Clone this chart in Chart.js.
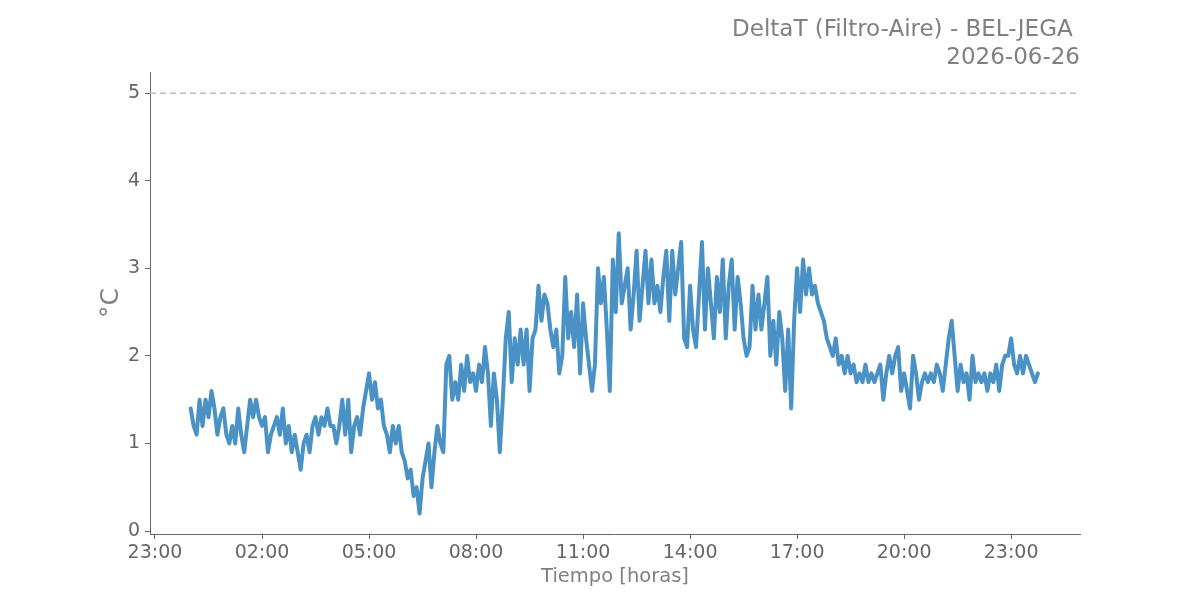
<!DOCTYPE html>
<html>
<head>
<meta charset="utf-8">
<script src="https://cdn.jsdelivr.net/npm/chart.js@4.4.1/dist/chart.umd.min.js"></script>
<style>
  html, body { margin: 0; padding: 0; background: #fff; }
  #wrap { width: 1200px; height: 600px; }
</style>
</head>
<body>
<div id="wrap"><canvas id="chart" width="1200" height="600"></canvas></div>
<script>
// DeltaT readings, one value every 5 minutes, grouped by hour of the day
const h00 = [1.4, 1.2, 1.1, 1.5, 1.2, 1.5, 1.3, 1.6, 1.4, 1.1, 1.3, 1.4];
const h01 = [1.1, 1.0, 1.2, 1.0, 1.4, 1.1, 0.9, 1.2, 1.5, 1.3, 1.5, 1.3];
const h02 = [1.2, 1.3, 0.9, 1.1, 1.2, 1.3, 1.1, 1.4, 1.0, 1.2, 0.9, 1.1];
const h03 = [0.9, 0.7, 1.0, 1.1, 0.9, 1.2, 1.3, 1.1, 1.3, 1.2, 1.4, 1.2];
const h04 = [1.2, 1.0, 1.2, 1.5, 1.1, 1.5, 0.9, 1.2, 1.3, 1.1, 1.4, 1.6];
const h05 = [1.8, 1.5, 1.7, 1.4, 1.5, 1.2, 1.1, 0.9, 1.2, 1.0, 1.2, 0.9];
const h06 = [0.8, 0.6, 0.7, 0.4, 0.5, 0.2, 0.6, 0.8, 1.0, 0.5, 0.9, 1.2];
const h07 = [1.0, 0.9, 1.9, 2.0, 1.5, 1.7, 1.5, 1.9, 1.6, 2.0, 1.7, 1.8];
const h08 = [1.6, 1.9, 1.7, 2.1, 1.8, 1.2, 1.8, 1.5, 0.9, 1.5, 2.2, 2.5];
const h09 = [1.7, 2.2, 1.9, 2.3, 1.9, 2.3, 1.6, 2.2, 2.3, 2.8, 2.4, 2.7];
const h10 = [2.6, 2.3, 2.1, 2.3, 1.8, 2.0, 2.9, 2.2, 2.5, 2.1, 2.7, 1.8];
const h11 = [2.6, 2.2, 1.9, 1.6, 1.9, 3.0, 2.6, 2.9, 2.3, 1.6, 3.1, 2.5];
const h12 = [3.4, 2.6, 2.8, 3.0, 2.3, 2.7, 3.2, 2.4, 2.8, 3.2, 2.6, 3.1];
const h13 = [2.6, 2.8, 2.5, 2.9, 3.2, 2.4, 3.2, 2.7, 3.0, 3.3, 2.2, 2.1];
const h14 = [2.8, 2.3, 2.1, 2.7, 3.3, 2.3, 3.0, 2.6, 2.2, 2.9, 2.5, 3.1];
const h15 = [2.2, 2.8, 3.1, 2.3, 2.9, 2.6, 2.2, 2.0, 2.1, 2.8, 2.3, 2.7];
const h16 = [2.3, 2.6, 2.9, 2.0, 2.4, 1.9, 2.5, 2.2, 1.6, 2.3, 1.4, 2.4];
const h17 = [3.0, 2.5, 3.1, 2.7, 3.0, 2.7, 2.8, 2.6, 2.5, 2.4, 2.2, 2.1];
const h18 = [2.0, 2.2, 1.9, 2.0, 1.8, 2.0, 1.8, 1.9, 1.7, 1.8, 1.7, 1.9];
const h19 = [1.7, 1.8, 1.7, 1.8, 1.9, 1.5, 1.8, 2.0, 1.8, 2.0, 2.1, 1.6];
const h20 = [1.8, 1.6, 1.4, 2.0, 1.8, 1.5, 1.7, 1.8, 1.7, 1.8, 1.7, 1.9];
const h21 = [1.8, 1.6, 1.9, 2.2, 2.4, 2.0, 1.6, 1.9, 1.7, 1.8, 1.5, 2.0];
const h22 = [1.7, 1.8, 1.7, 1.8, 1.6, 1.8, 1.7, 1.9, 1.6, 1.9, 2.0, 2.0];
const h23 = [2.2, 1.9, 1.8, 2.0, 1.8, 2.0, 1.9, 1.8, 1.7, 1.8];

const hourBlocks = [h00, h01, h02, h03, h04, h05, h06, h07, h08, h09, h10, h11,
                    h12, h13, h14, h15, h16, h17, h18, h19, h20, h21, h22, h23];

// x axis in hours from midnight; ticks every 3 h starting 23:00 the day before
const xTicks = [-1, 2, 5, 8, 11, 14, 17, 20, 23];
const yTicks = [0, 1, 2, 3, 4, 5];
const limitValue = 5;
const xMin = -1.14, xMax = 24.93;

const titleLines = ['DeltaT (Filtro-Aire) - BEL-JEGA ', '2026-06-26'];

let points = [];
hourBlocks.forEach((block, h) => {
    block.forEach((v, k) => points.push({ x: h + k * 5 / 60, y: v }));
});

const labelFont = { family: 'DejaVu Sans', size: 19 };
const grey = '#808080';
const tickGrey = '#666666';

function hhmm(v) {
    let h = ((Math.round(v) % 24) + 24) % 24;
    return String(h).padStart(2, '0') + ':00';
}

new Chart(document.getElementById('chart'), {
    type: 'line',
    data: {
        datasets: [{
            label: 'DeltaT',
            data: points,
            borderColor: '#4a92c6',
            borderWidth: 4,
            borderCapStyle: 'round',
            borderJoinStyle: 'round',
            pointRadius: 0,
            tension: 0
        }, {
            label: 'Limite',
            data: [{ x: xMin, y: limitValue }, { x: xMax, y: limitValue }],
            borderColor: '#bbbbbb',
            borderWidth: 1.5,
            borderDash: [6, 4],
            pointRadius: 0
        }]
    },
    options: {
        responsive: false,
        animation: false,
        layout: { padding: { left: 96, right: 120, top: 16, bottom: 0 } },
        plugins: {
            legend: { display: false },
            tooltip: { enabled: false },
            title: {
                display: true,
                text: titleLines,
                align: 'end',
                color: grey,
                font: { family: 'DejaVu Sans', size: 23, weight: 'normal', lineHeight: 1.22 },
                padding: { top: 0, bottom: 0 }
            }
        },
        scales: {
            x: {
                type: 'linear',
                min: xMin,
                max: xMax,
                afterBuildTicks: s => { s.ticks = xTicks.map(v => ({ value: v })); },
                afterFit: s => { s.height = 66; },
                grid: { drawOnChartArea: false, drawTicks: true, tickLength: 5, color: tickGrey },
                border: { display: true, color: tickGrey, width: 1 },
                ticks: { color: tickGrey, font: labelFont, padding: 3, maxRotation: 0, callback: v => hhmm(v) },
                title: {
                    display: true,
                    text: 'Tiempo [horas]',
                    color: grey,
                    font: { family: 'DejaVu Sans', size: 19.5 },
                    padding: { top: 0, bottom: 11 }
                }
            },
            y: {
                min: -0.034,
                max: 5.24,
                afterBuildTicks: s => { s.ticks = yTicks.map(v => ({ value: v })); },
                afterFit: s => { s.width = 54; },
                grid: { drawOnChartArea: false, drawTicks: true, tickLength: 5, color: tickGrey },
                border: { display: true, color: tickGrey, width: 1 },
                ticks: { color: tickGrey, font: labelFont, padding: 5 },
                title: {
                    display: true,
                    text: '°C',
                    color: grey,
                    font: { family: 'DejaVu Sans', size: 25 },
                    padding: 0
                }
            }
        }
    }
});
</script>
</body>
</html>
